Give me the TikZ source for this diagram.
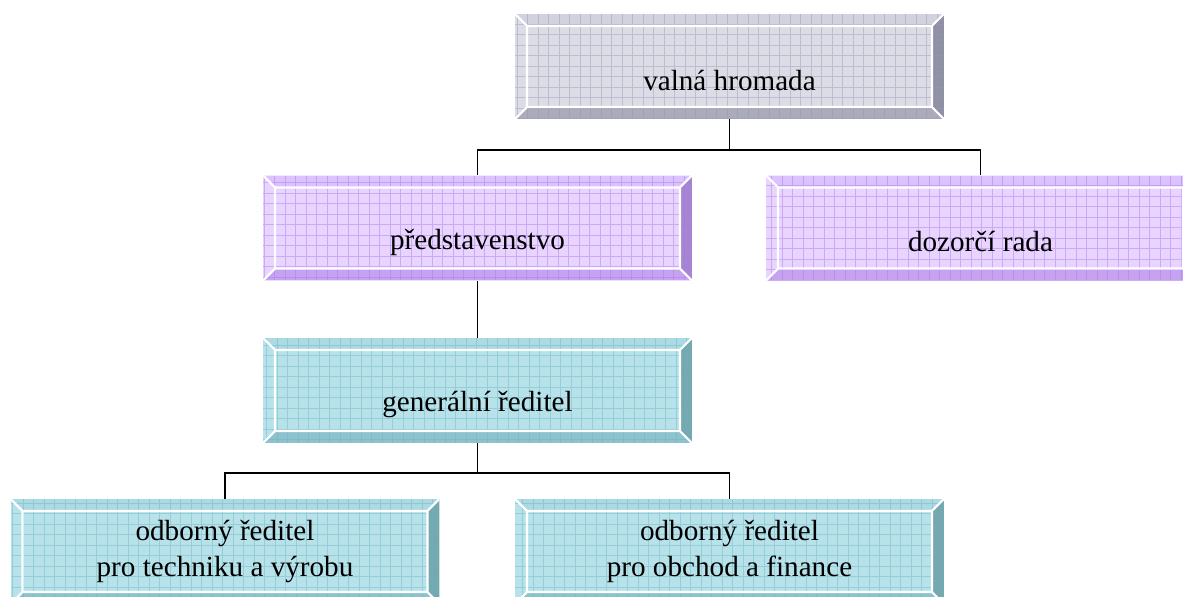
\documentclass[tikz,border=0pt]{standalone}
\usepackage{fontspec}
\setmainfont{Liberation Serif}
\usetikzlibrary{calc}

\definecolor{greyface}{HTML}{DCDCE6}
\definecolor{greytop}{HTML}{D2D2DE}
\definecolor{greybot}{HTML}{ABABBC}
\definecolor{greyside}{HTML}{9090A4}
\definecolor{greygrid}{HTML}{9898B0}
\definecolor{purpface}{HTML}{E8D4FF}
\definecolor{purptop}{HTML}{DCC2FF}
\definecolor{purpbot}{HTML}{C6A2F0}
\definecolor{purpside}{HTML}{A686D2}
\definecolor{purpgrid}{HTML}{A878E8}
\definecolor{tealface}{HTML}{B8E2EA}
\definecolor{tealtop}{HTML}{ACDAE2}
\definecolor{tealbot}{HTML}{8EC2CC}
\definecolor{tealside}{HTML}{76A8B0}
\definecolor{tealgrid}{HTML}{6CB4C4}

\newcommand{\droptext}[1]{\raisebox{-0.28cm}[\height][\depth]{#1}}

\tikzset{
  bevelbox/.style={rectangle, minimum width=8.58cm, minimum height=2.1cm,
    inner sep=0pt, align=center, font=\fontsize{16.6}{20.5}\selectfont,
    path picture={
      \coordinate (bl) at (path picture bounding box.south west);
      \coordinate (tr) at (path picture bounding box.north east);
      \coordinate (br) at (path picture bounding box.south east);
      \coordinate (tl) at (path picture bounding box.north west);
      \coordinate (ibl) at ($(bl)+(0.24cm,0.24cm)$);
      \coordinate (itr) at ($(tr)+(-0.24cm,-0.24cm)$);
      \coordinate (ibr) at ($(br)+(-0.24cm,0.24cm)$);
      \coordinate (itl) at ($(tl)+(0.24cm,-0.24cm)$);
      \fill[#1face] (bl) rectangle (tr);
      \fill[#1top] (tl) -- (tr) -- (itr) -- (itl) -- cycle;
      \fill[#1bot] (bl) -- (br) -- (ibr) -- (ibl) -- cycle;
      \fill[#1side] (br) -- (tr) -- (itr) -- (ibr) -- cycle;
      \draw[#1grid, opacity=0.45, line width=0.5pt, step=0.21cm] (bl) grid (tr);
      \draw[white, line width=1.2pt] (ibl) rectangle (itr)
        (bl) -- (ibl) (tl) -- (itl) (tr) -- (itr) (br) -- (ibr);
    }},
  link/.style={draw=black, line width=1.1pt}
}

\begin{document}
\begin{tikzpicture}[x=0.02cm, y=-0.02cm]
      \useasboundingbox (0,0) rectangle (1183,597);
      \node (vh)[bevelbox=grey] at (729.5, 66.5) {\droptext{valná hromada}};
      \node (pr)[bevelbox=purp] at (477.5, 228) {\droptext{představenstvo}};
      \node (dr)[bevelbox=purp] at (980.5, 228) {\droptext{dozorčí rada}};
      \node (gr)[bevelbox=teal] at (477.5, 390.5) {\droptext{generální ředitel}};
      \node (ot)[bevelbox=teal] at (225, 551.5) {odborný ředitel\\pro techniku a výrobu};
      \node (of)[bevelbox=teal] at (729.5, 551.5) {odborný ředitel\\pro obchod a finance};
      \draw[link] (vh.south) -- ++(0,31) -| (pr.north);
      \draw[link] (vh.south) -- ++(0,31) -| (dr.north);
      \draw[link] (pr.south) -- (gr.north);
      \draw[link] (gr.south) -- ++(0,30) -| (ot.north);
      \draw[link] (gr.south) -- ++(0,30) -| (of.north);
    \end{tikzpicture}
\end{document}
